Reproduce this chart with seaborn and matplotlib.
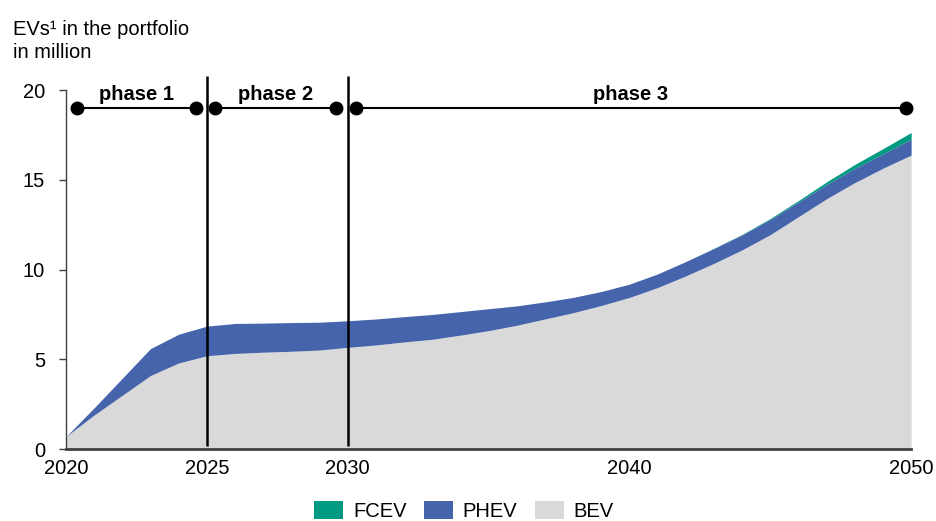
import matplotlib
matplotlib.use("Agg")
import matplotlib.pyplot as plt
from matplotlib.patches import Patch
import numpy as np
import seaborn as sns

years = list(range(2020, 2051))

# million vehicles
bev = [0.7, 1.9, 3.0, 4.1, 4.8, 5.2, 5.33, 5.4, 5.45, 5.52,
       5.67, 5.8, 5.97, 6.12, 6.35, 6.6, 6.9, 7.25, 7.6, 8.0,
       8.45, 9.0, 9.65, 10.35, 11.1, 11.95, 12.95, 13.95, 14.85, 15.65,
       16.38]
phev = [0.0, 0.4, 0.95, 1.5, 1.6, 1.65, 1.67, 1.62, 1.6, 1.55,
        1.48, 1.45, 1.41, 1.38, 1.31, 1.22, 1.08, 0.95, 0.85, 0.78,
        0.74, 0.76, 0.8, 0.83, 0.84, 0.85, 0.82, 0.79, 0.79, 0.8,
        0.89]
fcev = [0.0, 0.0, 0.0, 0.0, 0.0, 0.0, 0.0, 0.0, 0.0, 0.0,
        0.0, 0.0, 0.0, 0.0, 0.0, 0.0, 0.0, 0.0, 0.0, 0.0,
        0.0, 0.0, 0.0, 0.01, 0.02, 0.05, 0.08, 0.15, 0.22, 0.29,
        0.37]

phase_names = ["phase 1", "phase 2", "phase 3"]
phase_start = [2020.4, 2025.3, 2030.3]
phase_end = [2024.6, 2029.6, 2049.8]
phase_bounds = [2025, 2030]

xticks = [2020, 2025, 2030, 2040, 2050]
yticks = [0, 5, 10, 15, 20]

sns.set_theme(style="white")
plt.rcParams["font.family"] = ["Liberation Sans", "DejaVu Sans"]
plt.rcParams["text.color"] = "black"

colors = {"BEV": "#d9d9d9", "PHEV": "#4564ab", "FCEV": "#009a82"}

fig = plt.figure(figsize=(9.37, 5.21), dpi=100)
ax = fig.add_axes([0.0704, 0.138, 0.902, 0.689])

ax.stackplot(years, bev, phev, fcev,
             colors=[colors["BEV"], colors["PHEV"], colors["FCEV"]],
             linewidth=0)

ax.set_xlim(2020, 2050)
ax.set_ylim(0, 20)
ax.set_xticks(xticks)
ax.set_yticks(yticks)
ax.tick_params(axis="x", length=0, labelsize=14.5, pad=7)
ax.tick_params(axis="y", length=5, width=1, direction="out", left=True,
               labelsize=14.5, pad=10, color="#404040")
for lab in ax.get_xticklabels() + ax.get_yticklabels():
    lab.set_color("black")

sns.despine(ax=ax)
ax.spines["left"].set_color("#404040")
ax.spines["left"].set_linewidth(1)
ax.spines["bottom"].set_color("#404040")
ax.spines["bottom"].set_linewidth(2)

# phase boundaries
ax.vlines(phase_bounds, 0.2, 20.8, color="black", linewidth=1.8,
          clip_on=False, zorder=5)

# phase arrows
for name, s, e in zip(phase_names, phase_start, phase_end):
    ax.plot([s, e], [19.0, 19.0], color="black", linewidth=1.5,
            marker="o", markersize=9, clip_on=False, zorder=6)
    ax.text((s + e) / 2, 19.25, name, ha="center", va="bottom",
            fontsize=14.5, fontweight="bold")

fig.text(0.014, 0.962, "EVs\u00b9 in the portfolio\nin million",
         ha="left", va="top", fontsize=14.5, linespacing=1.25)

handles = [Patch(facecolor=colors[k], edgecolor="none", label=k)
           for k in ["FCEV", "PHEV", "BEV"]]
fig.legend(handles=handles, loc="center", ncol=3, frameon=False,
           bbox_to_anchor=(0.495, 0.019), fontsize=14.5,
           handlelength=1.45, handleheight=1.0, columnspacing=0.85,
           handletextpad=0.5, borderpad=0)

fig.savefig("out.png", dpi=100)
